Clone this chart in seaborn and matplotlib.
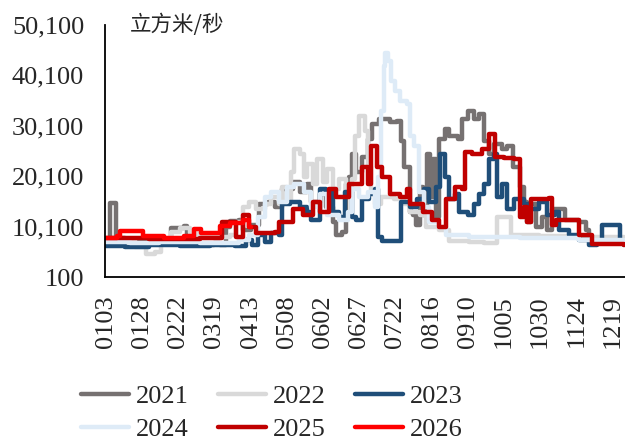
import numpy as np
import pandas as pd
import seaborn as sns
import matplotlib.pyplot as plt
from matplotlib.ticker import FixedLocator


# data: days counted from 0103, flow in m3/s

day_2021 = [0, 2, 3, 6, 7, 13, 20, 30, 41, 45, 54, 56, 65, 75, 79, 83, 86, 92, 95, 100,
            106, 112, 117, 122, 129, 134, 139, 142, 148, 152, 157, 159, 163, 166, 168, 170,
            173, 177, 181, 184, 189, 196, 201, 204, 206, 210, 212, 214, 217, 219, 222, 224,
            226, 228, 230, 234, 237, 243, 246, 250, 254, 258, 261, 265, 268, 274, 277, 281,
            286, 289, 291, 294, 297, 301, 305, 308, 313, 317, 321, 327, 332, 334, 358]
val_2021 = [7500, 7500, 14800, 14800, 7800, 7500, 7000, 7200, 7500, 9800, 10200, 6800, 6500,
            6800, 6500, 10000, 11200, 11500, 9500, 10500, 14500, 15000, 14000, 17500, 19000,
            17000, 18500, 15000, 16500, 14000, 11000, 8500, 9000, 18500, 20000, 24500, 21000,
            24000, 27500, 30500, 31500, 30800, 31000, 27000, 22000, 13000, 12500, 10500, 18000,
            12500, 24500, 16000, 23500, 12000, 27500, 29500, 28000, 27500, 31500, 33000, 31500,
            32500, 27000, 24500, 26500, 25500, 26000, 22000, 18000, 15000, 11000, 14500, 10000,
            12000, 9500, 13500, 13500, 11500, 11500, 11000, 9500, 7500, 7000]

day_2022 = [0, 6, 13, 20, 28, 34, 38, 45, 51, 58, 63, 75, 86, 90, 95, 99, 104, 110, 114, 120,
            122, 125, 128, 130, 134, 137, 139, 143, 146, 150, 153, 157, 161, 166, 170, 172,
            175, 179, 181, 183, 186, 190, 199, 206, 210, 217, 221, 230, 237, 251, 261, 270,
            280, 299, 327, 358]
val_2022 = [7000, 6500, 7500, 6000, 4600, 5000, 6800, 9000, 9800, 8800, 8200, 8000, 8500,
            11000, 14000, 15000, 13500, 14500, 16000, 14500, 18000, 15000, 21000, 25500, 24500,
            20000, 22500, 18500, 23500, 19000, 21500, 17500, 19500, 17000, 19500, 28000, 32000,
            29000, 22000, 17000, 14500, 16000, 15500, 14500, 13000, 12500, 10000, 9500, 7200,
            7000, 6800, 12000, 8500, 8200, 8000, 7500]

day_2023 = [0, 13, 30, 51, 72, 89, 97, 101, 105, 110, 114, 120, 122, 127, 134, 139, 142, 148,
            152, 157, 161, 165, 170, 173, 177, 182, 186, 188, 191, 203, 204, 210, 215, 220,
            223, 228, 231, 234, 237, 241, 244, 250, 254, 258, 261, 265, 268, 270, 274, 277,
            282, 289, 294, 299, 305, 310, 313, 320, 327, 334, 339, 343, 353, 355, 358]
val_2023 = [6200, 6000, 6500, 6200, 6500, 6300, 7500, 6500, 8500, 7000, 8800, 8500, 14500,
            15000, 14000, 13000, 11500, 17500, 17000, 13000, 12000, 17000, 12000, 11500, 15500,
            16500, 17500, 8000, 7200, 7200, 15000, 14000, 15500, 17500, 15000, 18000, 24500,
            20000, 15500, 16500, 13000, 12500, 14500, 16500, 18500, 23500, 24500, 16000, 18500,
            13500, 15500, 14500, 13500, 15000, 12500, 13000, 9500, 8500, 7500, 6500, 7000,
            10500, 10500, 7000, 6500]

day_2024 = [0, 17, 37, 65, 92, 99, 105, 110, 114, 120, 125, 130, 137, 142, 148, 153, 161,
            167, 170, 175, 181, 186, 188, 190, 192, 193, 195, 197, 200, 203, 208, 210, 213,
            216, 220, 223, 230, 235, 251, 286, 327, 358]
val_2024 = [7000, 6800, 7000, 6800, 7500, 8500, 12000, 16000, 17000, 15000, 18000, 18500,
            17000, 14000, 16500, 12500, 11500, 13000, 17500, 16000, 17000, 14000, 20000, 33000,
            42000, 44500, 43000, 39000, 37000, 35000, 34500, 28000, 26000, 17000, 14000, 11000,
            10000, 8500, 8000, 7800, 7500, 7000]

day_2025 = [0, 30, 65, 80, 90, 95, 99, 104, 117, 120, 129, 136, 143, 148, 154, 159, 168,
            177, 181, 183, 187, 191, 196, 203, 208, 210, 219, 225, 230, 235, 241, 246, 248,
            253, 260, 265, 269, 275, 282, 286, 289, 291, 294, 306, 308, 311, 327, 336, 358]
val_2025 = [7800, 7700, 7800, 11000, 8000, 12500, 10000, 8800, 9000, 11000, 13500, 12500,
            15000, 13000, 17500, 16000, 18500, 22000, 18500, 26000, 22000, 20000, 16500, 16000,
            17500, 14500, 13000, 11500, 10000, 15500, 18000, 17500, 25000, 24500, 25500, 28500,
            24000, 23800, 23500, 12000, 14000, 11000, 15500, 15800, 10500, 11500, 8500, 6700,
            6500]

day_2026 = [0, 8, 10, 26, 40, 54, 61, 66, 79, 86, 95, 99, 100]
val_2026 = [7800, 8200, 9300, 8300, 7800, 8300, 9600, 8800, 10200, 10800, 11500, 10000, 10000]

years = ['2021', '2022', '2023', '2024', '2025', '2026']
colors = ['#767171', '#D9D9D9', '#1F4E79', '#DEEBF7', '#C00000', '#FF0000']

x_labels = ['0103', '0128', '0222', '0319', '0413', '0508', '0602', '0627',
            '0722', '0816', '0910', '1005', '1030', '1124', '1219']
y_ticks = [100, 10100, 20100, 30100, 40100, 50100]


# long table for seaborn

frames = []
for yr, d, v in zip(years,
                    [day_2021, day_2022, day_2023, day_2024, day_2025, day_2026],
                    [val_2021, val_2022, val_2023, val_2024, val_2025, val_2026]):
    frames.append(pd.DataFrame({'day': d, 'flow': v, 'year': yr}))
df = pd.concat(frames, ignore_index=True)


# plot

sns.set_style('white')
plt.rcParams['font.family'] = ['Liberation Serif', 'Noto Sans CJK SC']

fig = plt.figure(figsize=(6.25, 4.41), dpi=100)
ax = fig.add_axes([105/625, 1 - 277/441, 1 - 105/625, (277 - 25)/441])

sns.lineplot(data=df, x='day', y='flow', hue='year', hue_order=years,
             palette=colors, drawstyle='steps-post', linewidth=3.2,
             estimator=None, sort=True, ax=ax)

ax.set_xlim(-0.5, 358.6)
ax.set_ylim(100, 50100)

base = pd.Timestamp('2023-01-03')
label_pos = [(pd.Timestamp('2023-' + s[:2] + '-' + s[2:]) - base).days for s in x_labels]
ax.set_xticks(label_pos)
ax.set_xticklabels(x_labels, rotation=90, fontsize=19)
ax.xaxis.set_minor_locator(FixedLocator(np.arange(19.5, 358, 20)))
ax.tick_params(axis='x', which='major', length=0, pad=13)
ax.tick_params(axis='x', which='minor', direction='in', length=6, width=1.3, color='black')

ax.set_yticks(y_ticks)
ax.set_yticklabels([f'{v:,}' for v in y_ticks], fontsize=19)
ax.tick_params(axis='y', direction='in', length=7, width=1.3, color='black', pad=15)

ax.set_xlabel('')
ax.set_ylabel('')
for side in ['top', 'right']:
    ax.spines[side].set_visible(False)
for side in ['left', 'bottom']:
    ax.spines[side].set_color('black')
    ax.spines[side].set_linewidth(1.3)

ax.text(25/520, 1.0, '立方米/秒', transform=ax.transAxes, fontsize=15.5,
        family=['Noto Sans CJK SC'], va='center', ha='left')

# legend filled row by row: 2021 2022 2023 / 2024 2025 2026
handles, labels = ax.get_legend_handles_labels()
ax.get_legend().remove()
order = [0, 3, 1, 4, 2, 5]
fig.legend([handles[i] for i in order], [labels[i] for i in order],
           loc='upper left', bbox_to_anchor=(81/625, 1 - 385/441), ncol=3,
           frameon=False, fontsize=19, handlelength=1.8, handletextpad=0.27,
           columnspacing=1.12, labelspacing=0.36, borderpad=0, borderaxespad=0)

plt.savefig('out.png', dpi=100)
